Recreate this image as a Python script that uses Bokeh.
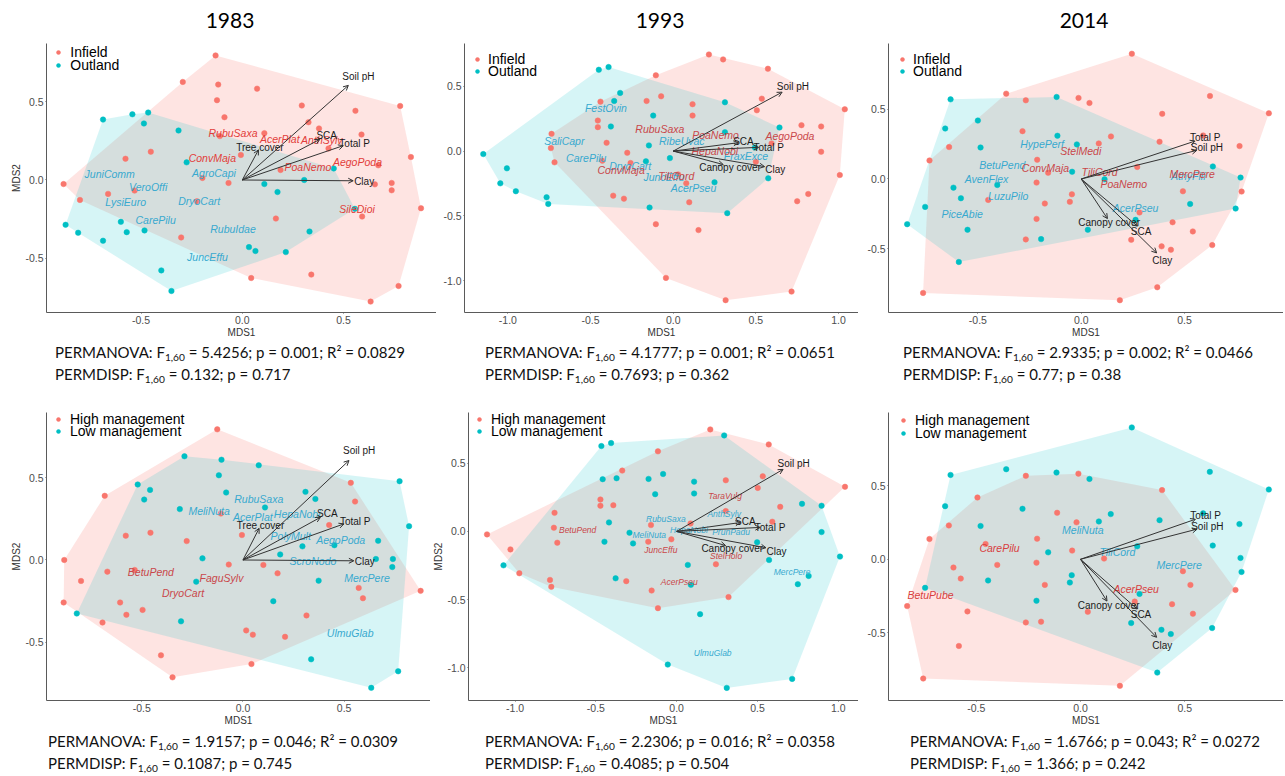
from bokeh.plotting import figure
from bokeh.models import (ColumnDataSource, Range1d, FixedTicker, NumeralTickFormatter,
                          Arrow, OpenHead, Legend, LegendItem, Div)
from bokeh.layouts import column, row
from bokeh.core.properties import value
from bokeh.embed import file_html
from bokeh.resources import INLINE

# ---------------------------------------------------------------- data
YEARS = ["1983", "1993", "2014"]

# --- 1983, land use (Infield / Outland)
P1_IN_X = [-0.132, -0.294, -0.119, 0.073, -0.125, 0.294, -0.088, 0.559, 0.780, 0.327, 0.379, 0.109, -0.111,
           0.589, 0.426, -0.007, -0.452, -0.577, 0.189, 0.672, 0.833, -0.197, -0.068, -0.883, 0.655, 0.738,
           0.738, -0.663, -0.532, -0.802, -0.224, 0.883, 0.592, 0.166, -0.302, 0.044, 0.341, 0.772, 0.634]
P1_IN_Y = [0.798, 0.628, 0.611, 0.585, 0.511, 0.477, 0.402, 0.443, 0.474, 0.370, 0.330, 0.300, 0.281,
           0.291, 0.202, 0.160, 0.181, 0.136, 0.064, 0.094, 0.147, 0.013, -0.019, -0.026, -0.028, -0.019,
           -0.066, -0.089, -0.068, -0.128, -0.136, -0.181, -0.234, -0.247, -0.368, -0.628, -0.606, -0.679, -0.779]
P1_OUT_X = [-0.688, -0.543, -0.465, -0.486, -0.315, -0.275, 0.109, 0.174, 0.306, 0.452, -0.873, -0.811,
            -0.600, -0.571, -0.483, -0.688, -0.400, -0.350, 0.033, 0.065, 0.215, 0.332, 0.556]
P1_OUT_Y = [0.387, 0.421, 0.432, 0.362, 0.317, 0.113, -0.026, -0.077, 0.0, 0.074, -0.287, -0.338,
            -0.268, -0.334, -0.323, -0.389, -0.579, -0.711, -0.430, -0.455, -0.462, -0.330, -0.185]
P1_SP_NAME = ["JuniComm", "AgroCapi", "VeroOffi", "LysiEuro", "DryoCart", "CarePilu", "RubuIdae", "JuncEffu",
              "RubuSaxa", "AcerPlat", "AnthSylv", "ConvMaja", "PoaNemo", "AegoPoda", "SileDioi"]
P1_SP_X = [-0.655, -0.140, -0.465, -0.576, -0.213, -0.428, -0.046, -0.172,
           -0.046, 0.185, 0.393, -0.148, 0.324, 0.569, 0.567]
P1_SP_Y = [0.038, 0.043, -0.047, -0.138, -0.132, -0.255, -0.315, -0.494,
           0.302, 0.262, 0.253, 0.143, 0.083, 0.117, -0.187]
P1_SP_GRP = ["b"] * 8 + ["a"] * 7

# --- 1993, land use
P2_IN_X = [0.216, 0.302, 0.573, -0.105, 0.536, 0.506, -0.440, -0.161, -0.073, 0.117, 0.117, 1.038, -0.456,
           -0.456, -0.736, -0.740, -0.718, -0.403, -0.278, -0.258, -0.429, 0.776, 0.895, 0.895, 0.595, 0.500,
           1.008, 0.817, 0.750, 0.079, 0.097, -0.363, -0.298, -0.105, 0.153, -0.044, 0.317, 0.716, 0.030]
P2_IN_Y = [0.746, 0.708, 0.636, 0.585, 0.405, 0.315, 0.382, 0.387, 0.423, 0.362, 0.274, 0.323, 0.236,
           0.185, 0.133, 0.023, -0.087, 0.064, -0.013, -0.092, -0.074, 0.200, 0.190, -0.005, 0.059, -0.082,
           -0.185, -0.331, -0.387, -0.249, -0.395, -0.344, -0.367, -0.564, -0.610, -0.979, -1.151, -1.085, -0.180]
P2_OUT_X = [-0.450, -0.391, -0.321, -0.357, -0.121, -0.377, -0.147, 0.313, 0.313, 0.643, -0.020, -0.165,
            0.494, 0.575, 0.250, -1.149, -1.006, -1.046, -0.952, -0.766, -0.756, -0.143, 0.327]
P2_OUT_Y = [0.628, 0.649, 0.449, 0.387, 0.274, 0.190, 0.044, 0.377, 0.146, 0.182, -0.054, -0.079,
            0.028, -0.210, -0.241, -0.023, -0.133, -0.249, -0.310, -0.356, -0.408, -0.436, -0.479]
P2_SP_NAME = ["FestOvin", "SaliCapr", "RibeUvac", "CarePilu", "DryoCart", "JuncEffu", "FraxExce", "AcerPseu",
              "RubuSaxa", "PoaNemo", "AegoPoda", "HepaNobi", "ConvMaja", "TiliCord"]
P2_SP_X = [-0.407, -0.659, 0.052, -0.526, -0.260, -0.056, 0.440, 0.123,
           -0.081, 0.256, 0.706, 0.252, -0.315, 0.018]
P2_SP_Y = [0.331, 0.077, 0.077, -0.051, -0.113, -0.197, -0.038, -0.287,
           0.172, 0.121, 0.113, -0.003, -0.146, -0.190]
P2_SP_GRP = ["b"] * 8 + ["a"] * 6

# --- 2014, land use
P3_IN_X = [0.245, -0.363, -0.268, -0.013, 0.040, 0.623, 0.908, 0.392, -0.284, -0.639, -0.734, 0.085, 0.144,
           0.379, 0.590, 0.766, -0.213, -0.160, -0.216, 0.271, -0.045, -0.055, -0.176, -0.450, -0.216, 0.492,
           0.776, 0.282, 0.442, 0.540, 0.634, 0.242, 0.389, 0.434, -0.268, 0.368, 0.187, -0.765]
P3_IN_Y = [0.898, 0.612, 0.564, 0.581, 0.545, 0.595, 0.471, 0.467, 0.343, 0.229, 0.133, 0.255, 0.305,
           0.267, 0.312, 0.236, 0.138, 0.045, -0.026, 0.086, -0.110, -0.164, -0.176, -0.150, -0.286, -0.088,
           -0.090, -0.240, -0.310, -0.376, -0.474, -0.436, -0.483, -0.507, -0.433, -0.776, -0.869, -0.817]
P3_OUT_X = [-0.632, -0.119, -0.500, -0.658, -0.487, -0.115, -0.021, -0.044, 0.113, -0.406, -0.618, -0.582,
            -0.755, -0.842, -0.550, -0.592, -0.194, 0.032, 0.263, 0.637, 0.771, 0.527, 0.747]
P3_OUT_Y = [0.571, 0.588, 0.419, 0.362, 0.226, 0.310, 0.248, 0.052, -0.002, -0.043, -0.062, -0.138,
            -0.200, -0.324, -0.364, -0.595, -0.431, -0.364, -0.293, 0.090, 0.010, -0.179, -0.212]
P3_SP_NAME = ["HypePerf", "BetuPend", "AvenFlex", "LuzuPilo", "PiceAbie", "AcerPseu", "AthyFili",
              "StelMedi", "ConvMaja", "TiliCord", "PoaNemo", "MercPere"]
P3_SP_X = [-0.189, -0.382, -0.458, -0.353, -0.576, 0.263, 0.518,
           -0.002, -0.173, 0.089, 0.206, 0.537]
P3_SP_Y = [0.248, 0.102, 0.0, -0.119, -0.252, -0.207, 0.021,
           0.202, 0.076, 0.048, -0.036, 0.036]
P3_SP_GRP = ["b"] * 7 + ["a"] * 5

# --- 1983, management (High / Low)
P4_HI_X = [-0.127, -0.683, 0.533, 0.554, -0.579, -0.457, -0.278, -0.109, -0.005, 0.426, -0.883, -0.800,
           -0.670, -0.535, -0.070, 0.101, 0.171, -0.886, -0.607, -0.576, -0.496, -0.694, -0.405, -0.348,
           0.016, 0.049, 0.208, 0.314, 0.042, 0.572, 0.593, 0.878]
P4_HI_Y = [0.796, 0.391, 0.470, 0.356, 0.148, 0.166, 0.115, 0.283, 0.152, 0.213, 0.0, -0.128,
           -0.071, -0.061, -0.028, -0.030, -0.081, -0.259, -0.259, -0.334, -0.304, -0.381, -0.581, -0.715,
           -0.429, -0.455, -0.468, -0.338, -0.634, -0.170, -0.233, -0.188]
P4_LO_X = [-0.289, -0.106, 0.078, -0.119, -0.083, -0.520, -0.459, -0.488, -0.312, 0.309, 0.358, 0.109,
           0.774, 0.821, 0.668, 0.294, 0.184, -0.200, -0.231, 0.657, 0.741, 0.738, 0.374, 0.150, -0.821,
           -0.306, 0.337, 0.767, 0.634, 0.452]
P4_LO_Y = [0.632, 0.611, 0.577, 0.516, 0.411, 0.460, 0.427, 0.368, 0.310, 0.415, 0.372, 0.320,
           0.480, 0.206, 0.117, 0.083, 0.034, 0.010, -0.132, 0.006, 0.006, -0.043, -0.126, -0.251, -0.326,
           -0.374, -0.605, -0.678, -0.779, 0.090]
P4_SP_NAME = ["RubuSaxa", "MeliNuta", "AcerPlat", "HepaNobi", "PolyMult", "AegoPoda", "ScroNodo", "MercPere",
              "UlmuGlab", "BetuPend", "FaguSylv", "DryoCart"]
P4_SP_X = [0.078, -0.167, 0.049, 0.268, 0.236, 0.483, 0.346, 0.613, 0.530, -0.455, -0.106, -0.296]
P4_SP_Y = [0.374, 0.298, 0.261, 0.283, 0.148, 0.119, -0.006, -0.111, -0.445, -0.071, -0.111, -0.202]
P4_SP_GRP = ["b"] * 9 + ["a"] * 3

# --- 1993, management
P5_HI_X = [0.208, 0.570, -0.116, -0.337, 0.533, 0.502, 1.042, 0.304, -0.472, -0.472, -0.392, -0.756,
           -0.760, -0.739, -1.174, -1.029, -0.974, -0.784, -0.776, -0.159, 0.086, 0.304, 0.641, 0.592,
           -0.033, -0.176, 0.243, -0.312, -0.155, -0.116, 0.321]
P5_HI_Y = [0.748, 0.638, 0.587, 0.446, 0.404, 0.319, 0.327, 0.375, 0.234, 0.188, 0.192, 0.136,
           0.027, -0.083, -0.022, -0.132, -0.307, -0.356, -0.407, 0.046, 0.058, 0.149, 0.180, 0.071,
           -0.058, -0.076, -0.241, -0.365, -0.434, -0.563, -0.482]
P5_LO_X = [-0.466, -0.406, 0.294, -0.458, -0.372, -0.174, -0.084, 0.108, 0.108, -0.133, -0.419, -0.292,
           -0.270, -0.447, 0.776, 0.897, 0.897, 0.498, 0.572, 1.011, 0.817, 0.750, 0.069, 0.088, -0.378,
           0.145, -0.055, 0.310, 0.715, -1.072]
P5_LO_Y = [0.626, 0.648, 0.704, 0.383, 0.390, 0.385, 0.421, 0.365, 0.278, 0.273, 0.066, -0.010,
           -0.088, -0.076, 0.202, 0.188, -0.005, -0.080, -0.210, -0.185, -0.327, -0.387, -0.246, -0.392, -0.344,
           -0.607, -0.977, -1.148, -1.082, -0.249]
P5_SP_NAME = ["RubuSaxa", "AnthSylv", "MeliNuta", "HepaNobi", "PrunPadu", "MercPere", "UlmuGlab",
              "TaraVulg", "BetuPend", "JuncEffu", "StelHolo", "AcerPseu"]
P5_SP_X = [-0.067, 0.294, -0.170, 0.076, 0.337, 0.715, 0.223, 0.300, -0.613, -0.098, 0.306, 0.016]
P5_SP_Y = [0.093, 0.127, -0.029, 0.007, -0.005, -0.295, -0.892, 0.258, 0.007, -0.136, -0.178, -0.368]
P5_SP_GRP = ["b"] * 7 + ["a"] * 5

# --- 2014, management
P6_HI_X = [-0.262, -0.010, 0.391, -0.494, -0.112, -0.019, -0.631, -0.724, -0.208, -0.455, -0.040, 0.113,
           -0.211, -0.609, -0.574, -0.399, -0.171, 0.491, 0.527, 0.743, 0.260, 0.439, 0.539, 0.035, -0.542,
           -0.262, -0.189, -0.831, -0.583, -0.754, 0.189]
P6_HI_Y = [0.567, 0.582, 0.470, 0.420, 0.316, 0.251, 0.230, 0.138, 0.140, 0.104, 0.059, 0.005,
           -0.023, -0.056, -0.131, -0.038, -0.174, -0.081, -0.174, -0.208, -0.287, -0.305, -0.370, -0.357, -0.354,
           -0.429, -0.424, -0.318, -0.589, -0.810, -0.860]
P6_LO_X = [0.246, -0.356, -0.623, -0.115, 0.043, 0.620, 0.903, -0.649, -0.278, -0.479, 0.088, 0.145, 0.379,
           0.588, 0.762, 0.272, 0.634, 0.767, 0.772, -0.155, -0.443, -0.042, -0.051, -0.745, -0.211, 0.283,
           0.243, 0.388, 0.433, 0.631, 0.368]
P6_LO_Y = [0.896, 0.612, 0.573, 0.589, 0.546, 0.594, 0.474, 0.361, 0.343, 0.226, 0.257, 0.307, 0.266,
           0.312, 0.239, 0.088, 0.093, 0.009, -0.086, 0.047, -0.144, -0.108, -0.158, -0.194, -0.282, -0.235,
           -0.433, -0.479, -0.508, -0.467, -0.770]
P6_SP_NAME = ["MeliNuta", "TiliCord", "MercPere", "CarePilu", "BetuPube", "AcerPseu"]
P6_SP_X = [0.011, 0.177, 0.473, -0.388, -0.719, 0.267]
P6_SP_Y = [0.196, 0.052, -0.041, 0.079, -0.246, -0.201]
P6_SP_GRP = ["b"] * 3 + ["a"] * 3

# --- environmental vectors (same for both groupings of a year)
E83_NAME = ["Soil pH", "SCA", "Total P", "Clay", "Tree cover"]
E83_X = [0.524, 0.383, 0.499, 0.548, 0.080]
E83_Y = [0.606, 0.260, 0.220, -0.005, 0.193]
E83_LX = [0.574, 0.417, 0.555, 0.602, 0.087]
E83_LY = [0.665, 0.282, 0.236, -0.012, 0.211]

E93_NAME = ["Soil pH", "SCA", "Total P", "Clay", "Canopy cover"]
E93_X = [0.659, 0.395, 0.517, 0.553, 0.303]
E93_Y = [0.455, 0.065, 0.029, -0.120, -0.104]
E93_LX = [0.724, 0.425, 0.578, 0.618, 0.344]
E93_LY = [0.496, 0.072, 0.030, -0.145, -0.128]

E14_NAME = ["Total P", "Soil pH", "Canopy cover", "SCA", "Clay"]
E14_X = [0.551, 0.559, 0.127, 0.272, 0.365]
E14_Y = [0.272, 0.205, -0.284, -0.338, -0.530]
E14_LX = [0.600, 0.608, 0.135, 0.290, 0.392]
E14_LY = [0.295, 0.223, -0.315, -0.374, -0.583]

# --- statistics
PERMANOVA_F = ["5.4256", "4.1777", "2.9335", "1.9157", "2.2306", "1.6766"]
PERMANOVA_P = ["0.001", "0.001", "0.002", "0.046", "0.016", "0.043"]
PERMANOVA_R2 = ["0.0829", "0.0651", "0.0466", "0.0309", "0.0358", "0.0272"]
PERMDISP_F = ["0.132", "0.7693", "0.77", "0.1087", "0.4085", "1.366"]
PERMDISP_P = ["0.717", "0.362", "0.38", "0.745", "0.504", "0.242"]

LAND_LABELS = ["Infield", "Outland"]
MGMT_LABELS = ["High management", "Low management"]

# ---------------------------------------------------------------- style
RED = "#F8766D"
TEAL = "#00BFC4"
TXT_TEAL = "#38A9CF"
FONT = "Liberation Sans"


def hull(xs, ys):
    pts = sorted(set(zip(xs, ys)))

    def cross(o, a, b):
        return (a[0] - o[0]) * (b[1] - o[1]) - (a[1] - o[1]) * (b[0] - o[0])

    lower, upper = [], []
    for p in pts:
        while len(lower) >= 2 and cross(lower[-2], lower[-1], p) <= 0:
            lower.pop()
        lower.append(p)
    for p in reversed(pts):
        while len(upper) >= 2 and cross(upper[-2], upper[-1], p) <= 0:
            upper.pop()
        upper.append(p)
    h = lower[:-1] + upper[:-1]
    return [p[0] for p in h], [p[1] for p in h]


def make_panel(cfg):
    p = figure(width=cfg["w"], height=cfg["h"], output_backend="svg", toolbar_location=None,
               x_range=Range1d(*cfg["xr"]), y_range=Range1d(*cfg["yr"]),
               min_border_left=cfg["bl"], min_border_right=0,
               min_border_top=cfg["bt"], min_border_bottom=27)
    p.outline_line_color = None
    p.xgrid.visible = False
    p.ygrid.visible = False
    p.background_fill_color = "white"
    for ax in (p.xaxis[0], p.yaxis[0]):
        ax.ticker = FixedTicker(ticks=[-1.0, -0.5, 0.0, 0.5, 1.0])
        ax.formatter = NumeralTickFormatter(format="0.0")
        ax.axis_line_color = "#5a5a5a"
        ax.major_tick_line_color = "#5a5a5a"
        ax.major_tick_out = 1
        ax.major_tick_in = 0
        ax.minor_tick_line_color = None
        ax.major_label_text_font = FONT
        ax.major_label_text_font_size = "10.5px"
        ax.major_label_text_color = "#4d4d4d"
        ax.major_label_standoff = 2
        ax.axis_label_text_font = FONT
        ax.axis_label_text_font_size = "10px"
        ax.axis_label_text_font_style = "normal"
        ax.axis_label_text_color = "#333333"
        ax.axis_label_standoff = 0
    p.xaxis.axis_label = "MDS1"
    if cfg["ylab"]:
        p.yaxis.axis_label = "MDS2"

    (l1, x1, y1), (l2, x2, y2) = cfg["groups"]
    hx, hy = hull(x1, y1)
    p.patch(hx, hy, fill_color=RED, fill_alpha=0.2, line_color=None)
    hx, hy = hull(x2, y2)
    p.patch(hx, hy, fill_color=TEAL, fill_alpha=0.16, line_color=None)

    r1 = p.scatter(x1, y1, size=5.5, fill_color=RED, line_color=RED, line_width=0.5)
    r2 = p.scatter(x2, y2, size=5.5, fill_color=TEAL, line_color=TEAL, line_width=0.5)

    # species labels
    names, sx, sy, grp = cfg["species"]
    for g, col in (("b", TXT_TEAL), ("a", cfg["red_txt"])):
        idx = [i for i, v in enumerate(grp) if v == g]
        src = ColumnDataSource(dict(x=[sx[i] for i in idx], y=[sy[i] for i in idx],
                                    t=[names[i] for i in idx]))
        p.text(x="x", y="y", text="t", source=src, text_font=value(FONT), text_font_style="italic",
               text_font_size=cfg["spfs"], text_color=col, text_align="center", text_baseline="middle")

    # environmental vectors
    en, ex, ey, elx, ely = cfg["env"]
    asrc = ColumnDataSource(dict(x=ex, y=ey))
    p.add_layout(Arrow(end=OpenHead(size=5, line_color="#333333", line_width=1),
                       x_start=0, y_start=0, x_end="x", y_end="y", source=asrc,
                       line_color="#333333", line_width=1))
    lsrc = ColumnDataSource(dict(x=elx, y=ely, t=en))
    p.text(x="x", y="y", text="t", source=lsrc, text_font=value(FONT), text_font_size="10px",
           text_color="#1a1a1a", text_align="center", text_baseline="middle")

    # legend: two single-item legends so that rows sit as tightly as in the original
    vx, vy1, vy2, so = cfg["leg"]
    for lab, rr, vy in ((l1, r1, vy1), (l2, r2, vy2)):
        lg = Legend(items=[LegendItem(label=lab, renderers=[rr])], location=(vx, vy),
                    glyph_width=10, glyph_height=16, label_height=16, label_standoff=int(so),
                    padding=0, spacing=0, margin=0, border_line_color=None,
                    background_fill_alpha=0, label_text_font=FONT, label_text_font_size="14px",
                    label_text_color="black")
        p.add_layout(lg)
    return p


CFG = [
    dict(w=428, h=305, bl=33, bt=8, xr=(-0.9673, 0.9595), yr=(-0.8488, 0.8743), ylab=True,
         groups=((LAND_LABELS[0], P1_IN_X, P1_IN_Y), (LAND_LABELS[1], P1_OUT_X, P1_OUT_Y)),
         species=(P1_SP_NAME, P1_SP_X, P1_SP_Y, P1_SP_GRP), spfs="10.5px", red_txt="#E23D3A",
         env=(E83_NAME, E83_X, E83_Y, E83_LX, E83_LY), leg=(7.3, 251.7, 239.0, 7)),
    dict(w=422, h=305, bl=28, bt=8, xr=(-1.2626, 1.1210), yr=(-1.2462, 0.8308), ylab=False,
         groups=((LAND_LABELS[0], P2_IN_X, P2_IN_Y), (LAND_LABELS[1], P2_OUT_X, P2_OUT_Y)),
         species=(P2_SP_NAME, P2_SP_X, P2_SP_Y, P2_SP_GRP), spfs="10.5px", red_txt="#C9474A",
         env=(E93_NAME, E93_X, E93_Y, E93_LX, E93_LY), leg=(8.0, 245.0, 233.3, 6)),
    dict(w=425, h=305, bl=30, bt=8, xr=(-0.9323, 0.9787), yr=(-0.9571, 0.9714), ylab=False,
         groups=((LAND_LABELS[0], P3_IN_X, P3_IN_Y), (LAND_LABELS[1], P3_OUT_X, P3_OUT_Y)),
         species=(P3_SP_NAME, P3_SP_X, P3_SP_Y, P3_SP_GRP), spfs="10.5px", red_txt="#C9474A",
         env=(E14_NAME, E14_X, E14_Y, E14_LX, E14_LY), leg=(9.0, 245.0, 233.0, 6)),
    dict(w=422, h=330, bl=33, bt=14, xr=(-0.9707, 0.9268), yr=(-0.8561, 0.8986), ylab=True,
         groups=((MGMT_LABELS[0], P4_HI_X, P4_HI_Y), (MGMT_LABELS[1], P4_LO_X, P4_LO_Y)),
         species=(P4_SP_NAME, P4_SP_X, P4_SP_Y, P4_SP_GRP), spfs="10.5px", red_txt="#C9474A",
         env=(E83_NAME, E83_X, E83_Y, E83_LX, E83_LY), leg=(7.0, 273.0, 261.0, 7)),
    dict(w=428, h=330, bl=34, bt=14, xr=(-1.2886, 1.1256), yr=(-1.2405, 0.8721), ylab=True,
         groups=((MGMT_LABELS[0], P5_HI_X, P5_HI_Y), (MGMT_LABELS[1], P5_LO_X, P5_LO_Y)),
         species=(P5_SP_NAME, P5_SP_X, P5_SP_Y, P5_SP_GRP), spfs="8.5px", red_txt="#C9474A",
         env=(E93_NAME, E93_X, E93_Y, E93_LX, E93_LY), leg=(6.0, 273.0, 261.0, 7)),
    dict(w=425, h=330, bl=30, bt=14, xr=(-0.9204, 0.9732), yr=(-0.9594, 0.9973), ylab=False,
         groups=((MGMT_LABELS[0], P6_HI_X, P6_HI_Y), (MGMT_LABELS[1], P6_LO_X, P6_LO_Y)),
         species=(P6_SP_NAME, P6_SP_X, P6_SP_Y, P6_SP_GRP), spfs="10.5px", red_txt="#D8403E",
         env=(E14_NAME, E14_X, E14_Y, E14_LX, E14_LY), leg=(10.0, 272.0, 259.0, 7)),
]

figs = [make_panel(c) for c in CFG]

# ---------------------------------------------------------------- text blocks
TOTAL_W = 1275
TITLE_LEFT = [172, 602, 1026]
title_html = ('<div style="position:relative;width:%dpx;height:27px;font-family:Lato;font-size:21px;color:#000;">'
              % TOTAL_W)
for yr, lx in zip(YEARS, TITLE_LEFT):
    title_html += ('<div style="position:absolute;left:%dpx;top:0px;width:100px;text-align:center;'
                   'line-height:24px;">%s</div>' % (lx, yr))
title_html += "</div>"
title_div = Div(text=title_html, width=TOTAL_W, height=27, margin=0)

SUB = '<span style="font-size:0.68em;position:relative;top:0.32em;">1,60</span>'


def stats_html(i):
    return ("PERMANOVA: F%s = %s; p = %s; R\u00b2 = %s<br>PERMDISP: F%s = %s; p = %s"
            % (SUB, PERMANOVA_F[i], PERMANOVA_P[i], PERMANOVA_R2[i], SUB, PERMDISP_F[i], PERMDISP_P[i]))


def stats_div(indices, lefts, height, top):
    h = ('<div style="position:relative;width:%dpx;height:%dpx;overflow:hidden;font-family:Lato;'
         'font-size:15px;color:#111;">' % (TOTAL_W, height))
    for i, lx in zip(indices, lefts):
        h += ('<div style="position:absolute;left:%dpx;top:%dpx;white-space:nowrap;line-height:20px;">%s</div>'
              % (lx, top, stats_html(i)))
    h += "</div>"
    return Div(text=h, width=TOTAL_W, height=height, margin=0)


stats_top = stats_div([0, 1, 2], [47, 477, 895], 58, 2)
stats_bot = stats_div([3, 4, 5], [40, 477, 902], 48, 3)

layout = column(title_div,
                row(figs[0], figs[1], figs[2], spacing=0),
                stats_top,
                row(figs[3], figs[4], figs[5], spacing=0),
                stats_bot, spacing=0, margin=(8, 0, 0, 8))

open("out.html", "w").write(file_html(layout, INLINE))
